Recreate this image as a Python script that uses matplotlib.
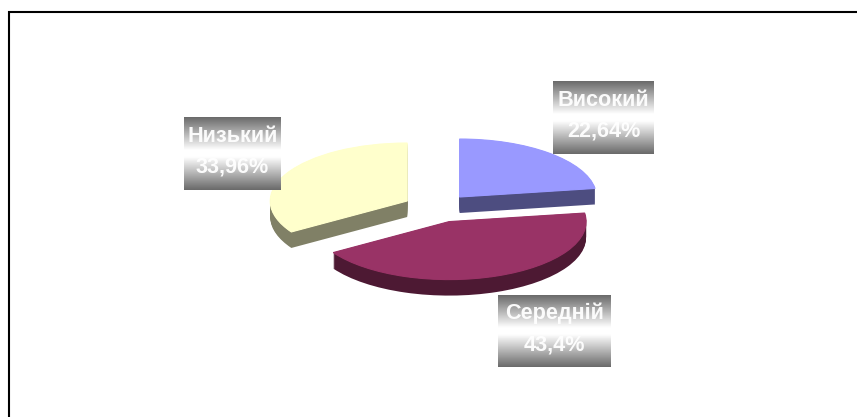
import matplotlib
matplotlib.use("Agg")
import matplotlib.pyplot as plt
import numpy as np

names = ["Високий", "Середній", "Низький"]
values = [22.64, 43.4, 33.96]
pct_labels = ["22,64%", "43,4%", "33,96%"]
top_colors = ["#9999FF", "#993366", "#FFFFCC"]
side_colors = ["#4D4D80", "#4D1933", "#808066"]
explode = [0.25, 0.25, 0.25]

W, H = 857, 417
rx, ry = 137.0, 58.0    # pie radius in pixels, squashed for the 3d look
cx, cy = 437.2, 208.0
depth = 16

plt.rcParams["font.family"] = ["Liberation Sans", "DejaVu Sans"]
fig = plt.figure(figsize=(W / 100, H / 100), dpi=100)

# pie axes: one data unit is rx wide and ry tall
ax = fig.add_axes([0, 0, 1, 1])
for d in range(depth, 0, -1):
    ax.pie(values, colors=side_colors, explode=explode, startangle=90,
           counterclock=False, center=(0, -d / ry), wedgeprops={"linewidth": 0})
# top drawn with a thin edge of its own colour so the sides don't peek out
ax.pie(values, colors=top_colors, explode=explode, startangle=90,
       counterclock=False, wedgeprops={"linewidth": 0})
for w, c in zip(ax.pie(values, colors=top_colors, explode=explode, startangle=90,
                       counterclock=False)[0], top_colors):
    w.set_edgecolor(c)
    w.set_linewidth(0.8)
ax.set_aspect("auto")
ax.set_xlim(-cx / rx, (W - cx) / rx)
ax.set_ylim(-(H - cy) / ry, cy / ry)
ax.axis("off")

# overlay in pixel coords for the frame and the label boxes
ov = fig.add_axes([0, 0, 1, 1])
ov.patch.set_alpha(0)
ov.axis("off")

boxes = [(553, 654, 81, 154), (498, 611, 295, 367), (184, 281, 117, 190)]
grad = np.abs(np.linspace(-1, 1, 73))[:, None]
grad = np.minimum(1.06 - grad * 0.64, 1)
for (x0, x1, y0, y1), name, pct in zip(boxes, names, pct_labels):
    ov.imshow(grad, cmap="gray", vmin=0, vmax=1, extent=(x0, x1, y1, y0),
              aspect="auto", interpolation="bilinear")
    ov.text((x0 + x1) / 2, (y0 + y1) / 2 - 2, name + "\n" + pct, color="white",
            fontsize=15.6, fontweight="bold", ha="center", va="center",
            linespacing=1.62, alpha=0.95)

ov.plot([9, 9, W], [H, 12, 12], color="black", lw=1.5, solid_joinstyle="miter")
ov.set_xlim(0, W)
ov.set_ylim(H, 0)

fig.savefig("out.png", dpi=100)
